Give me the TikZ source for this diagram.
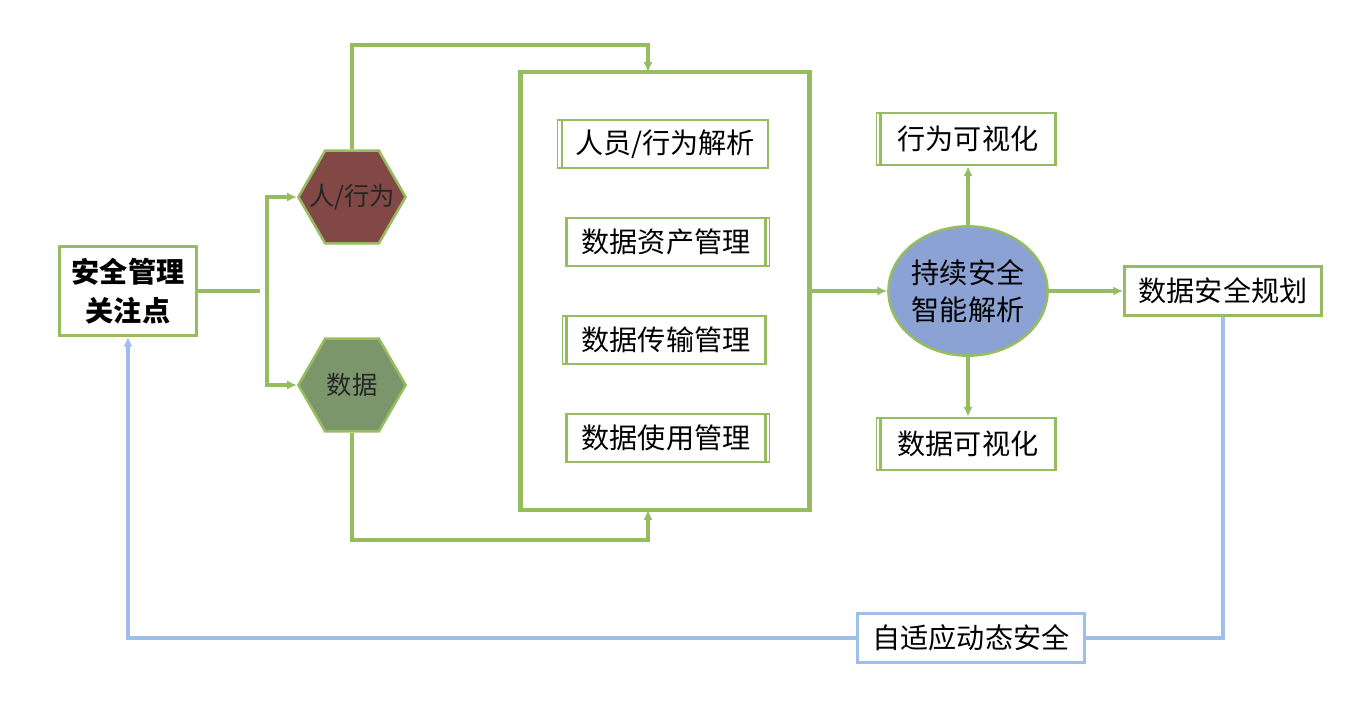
\documentclass[tikz,border=0pt]{standalone}
\usepackage{fontspec}
\setmainfont{Noto Sans CJK SC}
\usetikzlibrary{arrows.meta, shapes.geometric, shadows}

\definecolor{linegreen}{RGB}{150,188,96}
\definecolor{lineblue}{RGB}{160,190,234}
\definecolor{hexred}{RGB}{130,72,70}
\definecolor{hexgreen}{RGB}{124,150,108}
\definecolor{ovalblue}{RGB}{140,162,212}

\begin{document}
\begin{tikzpicture}[
    x=0.025cm, y=-0.025cm, % one unit = one pixel of the layout
    >={Latex[length=7pt,width=6.5pt]}, % Set default arrow tip style
    every node/.style={font=\fontsize{20}{26}\selectfont},
    box/.style={draw=linegreen, line width=1.8pt, fill=white, align=center, inner sep=0pt},
    subbox/.style={box, minimum width=4.98cm, minimum height=1.2cm,
        copy shadow={shadow xshift=#1, shadow yshift=0pt, draw=linegreen, line width=0.9pt, fill=white}},
    hexa/.style={regular polygon, regular polygon sides=6, minimum size=2.68cm, inner sep=0pt,
        draw=linegreen, line width=1.8pt},
    hexlabel/.style={font=\fontsize{18}{22}\selectfont, text=black!85},
    flow/.style={draw=linegreen, line width=2.4pt},
    fb/.style={draw=lineblue, line width=2.4pt}
]
\useasboundingbox (0,0) rectangle (1345,705);

% Left side
\node[box, minimum width=3.43cm, minimum height=2.23cm, font=\fontsize{20}{28}\selectfont\bfseries]
    (focus) at (128,291) {安全管理\\关注点};
\node[hexa, fill=hexred, label={[hexlabel]center:人/行为}] (person) at (352,197) {};
\node[hexa, fill=hexgreen, label={[hexlabel]center:数据}] (data) at (352,385) {};

% Big frame with the four tasks
\node[draw=linegreen, line width=3.2pt, minimum width=7.23cm, minimum height=10.95cm] (frame) at (665,291) {};
\node[subbox=-3pt, minimum width=5.15cm] (parse) at (665,144) {人员/行为解析};
\node[subbox=3pt] (asset) at (666,242) {数据资产管理};
\node[subbox=-3pt] (trans) at (666,340) {数据传输管理};
\node[subbox=3pt] (usage) at (666,438) {数据使用管理};

% Right side
\node[ellipse, draw=linegreen, line width=1.8pt, fill=ovalblue, minimum width=3.93cm, minimum height=3.23cm,
    inner sep=0pt, align=center] (smart) at (968,291) {持续安全\\智能解析};
\node[subbox=-3pt, minimum width=4.38cm, minimum height=1.3cm] (behav) at (968,139) {行为可视化};
\node[subbox=-3pt, minimum width=4.38cm, minimum height=1.3cm] (dview) at (968,444) {数据可视化};
\node[box, minimum width=4.93cm, minimum height=1.23cm] (plan) at (1223,291) {数据安全规划};
\node[box, draw=lineblue, minimum width=5.68cm, minimum height=1.23cm] (adapt) at (971,638) {自适应动态安全};

% Connectors
\coordinate (split) at (267,291);
\coordinate (topin) at (648,72);
\coordinate (botin) at (648,510);
\draw[flow] (focus.east) -- (260,291);
\draw[flow, ->] (split) |- (person.west);
\draw[flow, ->] (split) |- (data.west);
\draw[flow, ->] (person.north) |- (648,45) -- (topin);
\draw[flow, ->] (data.south) |- (648,540) -- (botin);
\draw[flow, ->] (frame.east) -- (smart.west);
\draw[flow, ->] (smart.north) -- (behav.south);
\draw[flow, ->] (smart.south) -- (dview.north);
\draw[flow, ->] (smart.east) -- (plan.west);

% Feedback loop
\draw[fb] (plan.south) |- (adapt.east);
\draw[fb, ->] (adapt.west) -| (focus.south);

\end{tikzpicture}
\end{document}
